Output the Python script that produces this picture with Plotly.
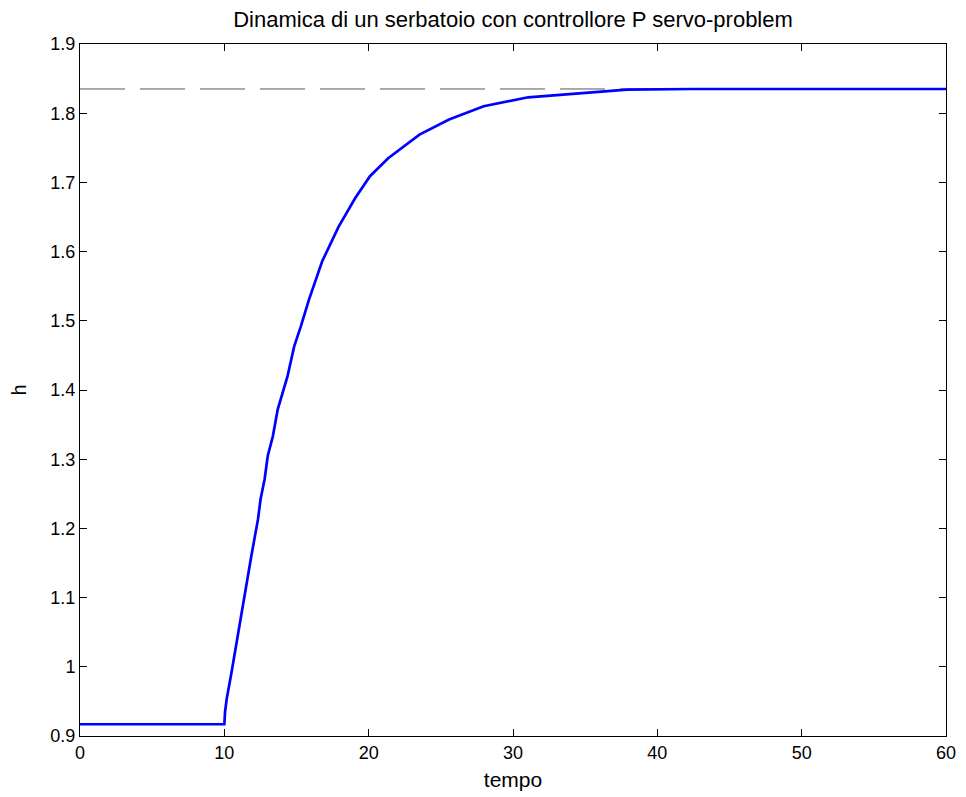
import plotly.graph_objects as go

# time (tempo) and level (h)
tempo = [0, 10.0, 10.05, 10.16, 10.5, 11.19, 11.87, 12.33, 12.51, 12.79, 13.01, 13.36,
         13.70, 14.38, 14.84, 15.3, 15.87, 16.78, 17.92, 19.06, 20.09, 21.35, 23.52,
         25.57, 27.97, 31.05, 35.6, 37.9, 42.5, 60]
h = [0.917, 0.917, 0.935, 0.953, 0.992, 1.078, 1.160, 1.213, 1.242, 1.271, 1.305, 1.333,
     1.372, 1.420, 1.463, 1.492, 1.531, 1.586, 1.636, 1.677, 1.709, 1.735, 1.769,
     1.791, 1.810, 1.823, 1.831, 1.834, 1.835, 1.835]

setpoint_t = [0, 60]
setpoint_h = [1.835, 1.835]

x_ticks = [0, 10, 20, 30, 40, 50, 60]
x_ticktext = ["0", "10", "20", "30", "40", "50", "60"]
y_ticks = [0.9, 1.0, 1.1, 1.2, 1.3, 1.4, 1.5, 1.6, 1.7, 1.8, 1.9]
y_ticktext = ["0.9", "1", "1.1", "1.2", "1.3", "1.4", "1.5", "1.6", "1.7", "1.8", "1.9"]

fig = go.Figure()
fig.add_trace(go.Scatter(x=setpoint_t, y=setpoint_h, mode="lines",
                         line=dict(color="#555555", width=1, dash="45px,15px"),
                         showlegend=False, hoverinfo="skip"))
fig.add_trace(go.Scatter(x=tempo, y=h, mode="lines",
                         line=dict(color="#0000FF", width=2.7),
                         showlegend=False))

font = "Liberation Sans, Arial, sans-serif"
fig.update_layout(
    width=958, height=789,
    margin=dict(l=71, r=10, t=36, b=60),
    paper_bgcolor="white", plot_bgcolor="white",
    font=dict(family=font, size=16, color="black"),
    title=dict(text="Dinamica di un serbatoio con controllore P servo-problem",
               x=0.5, xanchor="center", xref="paper",
               y=0.9854, yanchor="middle",
               font=dict(size=22, family=font, color="black")),
)
fig.update_xaxes(range=[0, 60], tickvals=x_ticks, ticktext=x_ticktext,
                 showgrid=False, zeroline=False, showline=True, linecolor="black",
                 linewidth=1, mirror="ticks", ticks="inside", ticklen=7,
                 tickcolor="black", tickfont=dict(size=18),
                 title=dict(text="tempo", font=dict(size=21), standoff=10))
fig.update_yaxes(range=[0.9, 1.9], tickvals=y_ticks, ticktext=y_ticktext,
                 showgrid=False, zeroline=False, showline=True, linecolor="black",
                 linewidth=1, mirror="ticks", ticks="inside", ticklen=7,
                 tickcolor="black", tickfont=dict(size=18),
                 title=dict(text="h", font=dict(size=20), standoff=18))

fig.write_html("out.html")
